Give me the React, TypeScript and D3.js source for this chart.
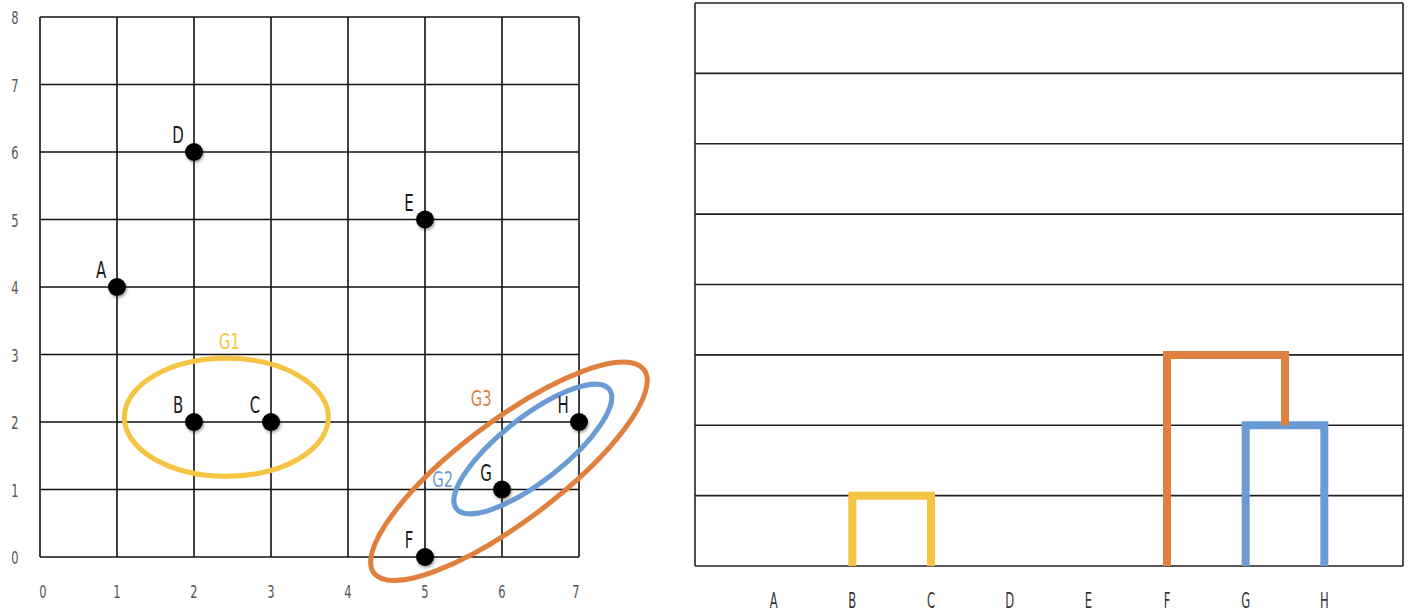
import React from 'react'
import * as d3 from 'd3'

// points of the scatter (left) and leaves of the dendrogram (right)
const pointNames = ['A', 'B', 'C', 'D', 'E', 'F', 'G', 'H']
const pointX = [1, 2, 3, 2, 5, 5, 6, 7]
const pointY = [4, 2, 2, 6, 5, 0, 1, 2]

const xTicks = [0, 1, 2, 3, 4, 5, 6, 7]
const yTicks = [0, 1, 2, 3, 4, 5, 6, 7, 8]
const levels = [0, 1, 2, 3, 4, 5, 6, 7, 8]

// clusters: name, members, merge height
const groupNames = ['G1', 'G2', 'G3']
const groupMembers = [['B', 'C'], ['G', 'H'], ['F', 'G2']]
const groupHeights = [1, 2, 3]
const groupColors = ['#f5c442', '#6a9bd5', '#e0803f']

// ellipse outline for each group, centre in data units
const ellipseCx = [2.42, 6.4, 6.09]
const ellipseCy = [2.07, 1.6, 1.27]
const ellipseRx = [102, 97, 169]
const ellipseRy = [59, 32, 50]
const ellipseAngle = [0, -38, -37]
const groupLabelX = [2.46, 5.23, 5.73]
const groupLabelY = [3.08, 1.04, 2.24]

const W = 1408
const H = 614

export default function App() {
  const x = d3.scaleLinear().domain([0, 7]).range([40, 579])
  const y = d3.scaleLinear().domain([0, 8]).range([557, 17])

  const lx = d3.scalePoint().domain(pointNames).range([695, 1403]).padding(1)
  const ly = d3.scaleLinear().domain([0, 8]).range([566, 3])

  const font = "'DejaVu Sans', sans-serif"

  // x position of a node in the dendrogram (leaf or group)
  const nodeX = (n: string): number => {
    const gi = groupNames.indexOf(n)
    if (gi < 0) return lx(n) as number
    const [a, b] = groupMembers[gi]
    return (nodeX(a) + nodeX(b)) / 2
  }
  const nodeH = (n: string): number => {
    const gi = groupNames.indexOf(n)
    return gi < 0 ? 0 : groupHeights[gi]
  }

  // narrow lettering like the original
  const narrow = (cx: number, cy: number, sx: number) =>
    `translate(${cx},${cy}) scale(${sx},1)`

  return (
    <svg width={W} height={H} style={{ position: 'absolute', left: 0, top: 0 }}>
      <defs>
        <filter id="sh" x="-50%" y="-50%" width="200%" height="200%">
          <feDropShadow dx="1" dy="2" stdDeviation="1.5" floodColor="#000" floodOpacity="0.35" />
        </filter>
      </defs>
      <rect width={W} height={H} fill="#fff" />

      {/* left: grid */}
      <g stroke="#111" strokeWidth={1.6}>
        {xTicks.map(t => (
          <line key={'vx' + t} x1={x(t)} x2={x(t)} y1={y(8)} y2={y(0)} />
        ))}
        {yTicks.map(t => (
          <line key={'hy' + t} x1={x(0)} x2={x(7)} y1={y(t)} y2={y(t)} />
        ))}
      </g>
      <g fill="#555" fontFamily={font} fontSize={18.5} textAnchor="middle">
        {xTicks.map(t => (
          <text key={'tx' + t} transform={narrow(x(t) + (t === 0 ? 3 : t === 7 ? -3 : 0), 598, 0.62)}>{t}</text>
        ))}
        {yTicks.map(t => (
          <text key={'ty' + t} transform={narrow(15, y(t) + 7, 0.62)}>{t}</text>
        ))}
      </g>

      {/* group ellipses */}
      {groupNames.map((g, i) => (
        <g key={g}>
          <ellipse
            cx={0} cy={0} rx={ellipseRx[i]} ry={ellipseRy[i]}
            transform={`translate(${x(ellipseCx[i])},${y(ellipseCy[i])}) rotate(${ellipseAngle[i]})`}
            fill="none" stroke={groupColors[i]} strokeWidth={5}
          />
          <text transform={narrow(x(groupLabelX[i]), y(groupLabelY[i]), 0.7)} fill={groupColors[i]}
            fontFamily={font} fontSize={21} textAnchor="middle">{g}</text>
        </g>
      ))}

      {/* points */}
      {pointNames.map((n, i) => (
        <g key={n}>
          <circle cx={x(pointX[i])} cy={y(pointY[i])} r={9} fill="#000" filter="url(#sh)" />
          <text transform={narrow(x(pointX[i]) - 16, y(pointY[i]) - 9, 0.65)} fontFamily={font} fontSize={23}
            textAnchor="middle" fill="#1a1a1a">{n}</text>
        </g>
      ))}

      {/* right: dendrogram frame */}
      <g stroke="#222" strokeWidth={1.6}>
        {levels.map(l => (
          <line key={'l' + l} x1={695} x2={1403} y1={ly(l)} y2={ly(l)} />
        ))}
        <line x1={695} x2={695} y1={ly(8)} y2={ly(0)} />
        <line x1={1403} x2={1403} y1={ly(8)} y2={ly(0)} />
      </g>

      {groupNames.map((g, i) => {
        const [a, b] = groupMembers[i]
        const h = groupHeights[i]
        const p = d3.path()
        p.moveTo(nodeX(a), ly(nodeH(a)))
        p.lineTo(nodeX(a), ly(h))
        p.lineTo(nodeX(b), ly(h))
        p.lineTo(nodeX(b), ly(nodeH(b)))
        return (
          <path key={'d' + g} d={p.toString()} fill="none" stroke={groupColors[i]}
            strokeWidth={8} strokeLinejoin="miter" />
        )
      })}

      <g fill="#333" fontFamily={font} fontSize={21} textAnchor="middle">
        {pointNames.map(n => (
          <text key={'lb' + n} transform={narrow(lx(n) as number, 608, 0.55)}>{n}</text>
        ))}
      </g>
    </svg>
  )
}
